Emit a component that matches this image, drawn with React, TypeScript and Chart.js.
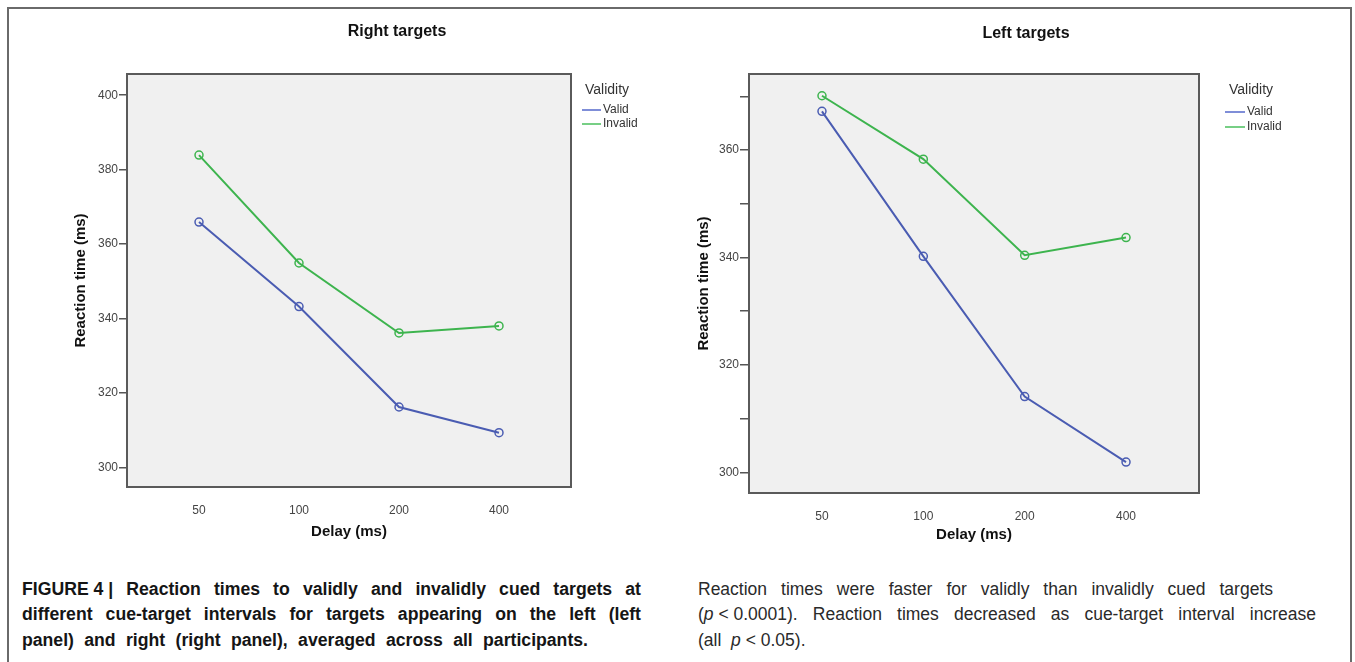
import React, { useEffect, useRef } from "react";
import { Chart, registerables } from "chart.js";

Chart.register(...registerables);

// ---------------- data ----------------
const DELAY_LABELS = ["50", "100", "200", "400"];
const SERIES_NAMES = ["Valid", "Invalid"];
const RIGHT_TARGETS_VALID = [365.9, 343.2, 316.2, 309.3];
const RIGHT_TARGETS_INVALID = [383.9, 354.9, 336.1, 338.0];
const LEFT_TARGETS_VALID = [367.2, 340.2, 314.1, 301.9];
const LEFT_TARGETS_INVALID = [370.1, 358.3, 340.4, 343.7];
const RIGHT_Y_TICKS = [300, 320, 340, 360, 380, 400];
const RIGHT_Y_LABELLED = [300, 320, 340, 360, 380, 400];
const LEFT_Y_TICKS = [300, 310, 320, 330, 340, 350, 360, 370];
const LEFT_Y_LABELLED = [300, 320, 340, 360];
const PANEL_TITLES = ["Right targets", "Left targets"];
const LEGEND_TITLE = "Validity";
const X_TITLE = "Delay (ms)";
const Y_TITLE = "Reaction time (ms)";

const LINE_COLORS = ["#4a5cb2", "#3db44e"];
const LEGEND_COLORS = ["#7f8ed8", "#77cf85"];
const FONT = "'Liberation Sans', Arial, sans-serif";

type Panel = {
  title: string;
  valid: number[];
  invalid: number[];
  yMin: number;
  yMax: number;
  yTicks: number[];
  yLabelled: number[];
  left: number;
  width: number;
  height: number;
  padding: { left: number; top: number; right: number; bottom: number };
  yAxisWidth: number;
  xAxisHeight: number;
  tickLength: number;
  titleX: number;
  titleY: number;
  legendTitleX: number;
  legendTitleY: number;
  legendLineX1: number;
  legendLineX2: number;
  legendTextX: number;
  legendRowsY: number[];
};

const PANELS: Panel[] = [
  {
    title: PANEL_TITLES[0],
    valid: RIGHT_TARGETS_VALID,
    invalid: RIGHT_TARGETS_INVALID,
    yMin: 294.7,
    yMax: 405.7,
    yTicks: RIGHT_Y_TICKS,
    yLabelled: RIGHT_Y_LABELLED,
    left: 0,
    width: 680,
    height: 560,
    padding: { left: 72, top: 74, right: 109, bottom: 19 },
    yAxisWidth: 55,
    xAxisHeight: 54,
    tickLength: 8,
    titleX: 397,
    titleY: 32,
    legendTitleX: 585,
    legendTitleY: 90,
    legendLineX1: 582,
    legendLineX2: 601,
    legendTextX: 603,
    legendRowsY: [110, 124],
  },
  {
    title: PANEL_TITLES[1],
    valid: LEFT_TARGETS_VALID,
    invalid: LEFT_TARGETS_INVALID,
    yMin: 296.15,
    yMax: 374.15,
    yTicks: LEFT_Y_TICKS,
    yLabelled: LEFT_Y_LABELLED,
    left: 680,
    width: 675,
    height: 560,
    padding: { left: 15, top: 74, right: 156, bottom: 16 },
    yAxisWidth: 54,
    xAxisHeight: 51,
    tickLength: 9,
    titleX: 346,
    titleY: 34,
    legendTitleX: 549,
    legendTitleY: 90,
    legendLineX1: 545,
    legendLineX2: 565,
    legendTextX: 567,
    legendRowsY: [112, 127],
  },
];

const decorPlugin = {
  id: "panelDecor",
  beforeDraw(chart: any) {
    const { ctx, chartArea } = chart;
    ctx.save();
    ctx.fillStyle = "#f0f0f0";
    ctx.fillRect(chartArea.left, chartArea.top, chartArea.right - chartArea.left, chartArea.bottom - chartArea.top);
    ctx.restore();
  },
  afterDatasetsDraw(chart: any) {
    const { ctx, chartArea } = chart;
    ctx.save();
    ctx.strokeStyle = "#5a5a5a";
    ctx.lineWidth = 2;
    ctx.strokeRect(chartArea.left, chartArea.top, chartArea.right - chartArea.left, chartArea.bottom - chartArea.top);
    ctx.restore();
  },
  afterDraw(chart: any, _args: any, opts: any) {
    const { ctx } = chart;
    const p: Panel = opts.panel;
    ctx.save();
    ctx.fillStyle = "#111";
    ctx.font = `bold 16px ${FONT}`;
    ctx.textAlign = "center";
    ctx.textBaseline = "middle";
    ctx.fillText(p.title, p.titleX, p.titleY);
    ctx.textAlign = "left";
    ctx.fillStyle = "#333";
    ctx.font = `14px ${FONT}`;
    ctx.fillText(LEGEND_TITLE, p.legendTitleX, p.legendTitleY);
    ctx.font = `12px ${FONT}`;
    chart.data.datasets.forEach((ds: any, i: number) => {
      const y = p.legendRowsY[i];
      ctx.strokeStyle = LEGEND_COLORS[i];
      ctx.lineWidth = 2;
      ctx.beginPath();
      ctx.moveTo(p.legendLineX1, y);
      ctx.lineTo(p.legendLineX2, y);
      ctx.stroke();
      ctx.fillStyle = "#333";
      ctx.fillText(ds.label, p.legendTextX, y);
    });
    ctx.restore();
  },
};

function PanelChart({ panel }: { panel: Panel }) {
  const ref = useRef<HTMLCanvasElement | null>(null);
  useEffect(() => {
    if (!ref.current) return;
    const series = [panel.valid, panel.invalid];
    const chart = new Chart(ref.current, {
      type: "line",
      data: {
        datasets: series.map((vals, si) => ({
          label: SERIES_NAMES[si],
          data: vals.map((v, i) => ({ x: i, y: v })),
          borderColor: LINE_COLORS[si],
          borderWidth: 2,
          pointRadius: 4,
          pointBorderWidth: 1.5,
          pointBorderColor: LINE_COLORS[si],
          pointBackgroundColor: "rgba(0,0,0,0)",
          tension: 0,
          fill: false,
        })),
      },
      options: {
        responsive: false,
        animation: false,
        devicePixelRatio: 1,
        layout: { padding: panel.padding },
        plugins: {
          legend: { display: false },
          tooltip: { enabled: false },
          title: { display: false },
          panelDecor: { panel },
        } as any,
        scales: {
          x: {
            type: "linear",
            min: -0.72,
            max: 3.72,
            afterBuildTicks: (scale: any) => {
              scale.ticks = DELAY_LABELS.map((_, i) => ({ value: i }));
            },
            afterFit: (scale: any) => {
              scale.height = panel.xAxisHeight;
            },
            grid: { display: false },
            border: { display: false },
            ticks: {
              padding: 8,
              color: "#444",
              font: { family: FONT, size: 12 },
              maxRotation: 0,
              callback: (v: any) => DELAY_LABELS[v] ?? "",
            },
            title: {
              display: true,
              text: X_TITLE,
              color: "#111",
              font: { family: FONT, size: 15, weight: "bold" },
              padding: 0,
            },
          },
          y: {
            type: "linear",
            min: panel.yMin,
            max: panel.yMax,
            afterBuildTicks: (scale: any) => {
              scale.ticks = panel.yTicks.map((v) => ({ value: v }));
            },
            afterFit: (scale: any) => {
              scale.width = panel.yAxisWidth;
            },
            grid: {
              display: true,
              drawOnChartArea: false,
              drawTicks: true,
              tickLength: panel.tickLength,
              color: "#555",
              lineWidth: 1.5,
            },
            border: { display: false },
            ticks: {
              padding: 1,
              color: "#444",
              font: { family: FONT, size: 12 },
              callback: (v: any) => (panel.yLabelled.includes(v) ? String(v) : ""),
            },
            title: {
              display: true,
              text: Y_TITLE,
              color: "#111",
              font: { family: FONT, size: 15, weight: "bold" },
              padding: 0,
            },
          },
        },
      },
      plugins: [decorPlugin as any],
    } as any);
    return () => chart.destroy();
  }, [panel]);
  return (
    <canvas
      ref={ref}
      width={panel.width}
      height={panel.height}
      style={{ position: "absolute", left: panel.left, top: 0, width: panel.width, height: panel.height }}
    />
  );
}

const BOLD_SCALE = 0.98;

function BoldLine({ children, top, width }: { children: React.ReactNode; top: number; width: number }) {
  return (
    <div
      style={{
        position: "absolute",
        left: 22,
        top,
        width: width / BOLD_SCALE,
        transform: `scaleX(${BOLD_SCALE})`,
        transformOrigin: "0 0",
        fontFamily: FONT,
        fontWeight: "bold",
        fontSize: 18,
        lineHeight: "20px",
        color: "#151515",
        textAlign: "justify",
        textAlignLast: "justify" as any,
      }}
    >
      {children}
    </div>
  );
}

const plainBase: React.CSSProperties = {
  position: "absolute",
  left: 698,
  fontFamily: FONT,
  fontSize: 17.5,
  lineHeight: "20px",
  color: "#2a2a2a",
  textAlign: "justify",
  textAlignLast: "justify" as any,
};

const keep: React.CSSProperties = { display: "inline-block" };

export default function App() {
  return (
    <div style={{ position: "absolute", left: 0, top: 0, width: 1355, height: 662, overflow: "hidden", background: "#fff" }}>
      <div
        style={{
          position: "absolute",
          left: 7,
          top: 7,
          width: 1341,
          height: 660,
          borderTop: "2px solid #6a6a6a",
          borderLeft: "2px solid #6a6a6a",
          borderRight: "2px solid #6a6a6a",
        }}
      />
      {PANELS.map((p, i) => (
        <PanelChart key={i} panel={p} />
      ))}
      <BoldLine top={579} width={619}>
        <span style={keep}>FIGURE 4 |</span> Reaction times to validly and invalidly cued targets at
      </BoldLine>
      <BoldLine top={604} width={619}>
        different cue-target intervals for targets appearing on the left (left
      </BoldLine>
      <BoldLine top={630} width={566}>
        panel) and right (right panel), averaged across all participants.
      </BoldLine>
      <div style={{ ...plainBase, top: 579, width: 575 }}>
        Reaction times were faster for validly than invalidly cued targets
      </div>
      <div style={{ ...plainBase, top: 604, width: 618 }}>
        <span style={keep}>
          (<i>p</i> &lt; 0.0001).
        </span>{" "}
        Reaction times decreased as cue-target interval increase
      </div>
      <div style={{ ...plainBase, top: 630, width: 300, textAlign: "left", textAlignLast: "left" as any, whiteSpace: "pre" }}>
        (all  <i>p</i> &lt; 0.05).
      </div>
    </div>
  );
}
